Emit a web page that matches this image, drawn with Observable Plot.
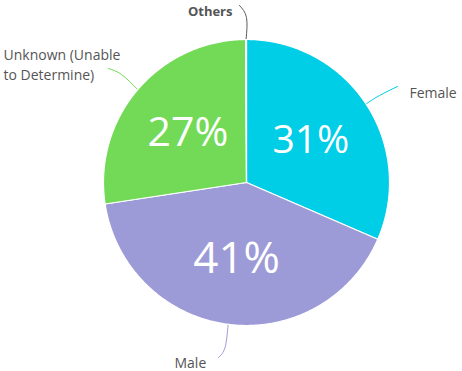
<!DOCTYPE html>
<html>
<head>
<meta charset="utf-8">
<script src="https://cdn.jsdelivr.net/npm/d3@7"></script>
<script src="https://cdn.jsdelivr.net/npm/@observablehq/plot@0.6"></script>
<style>
  html, body { margin: 0; padding: 0; background: #fff; }
  #chart svg { display: block; }
</style>
</head>
<body>
<div id="chart"></div>
<script>
// ---- data ----
const categories = ["Female", "Male", "Unknown (Unable\nto Determine)", "Others"];
const shares = [31.5, 41.1, 27.3, 0.1];
const pctLabels = ["31%", "41%", "27%", ""];
const colors = ["#00cde6", "#9d9bd7", "#72da57", "#5c5c5c"];

// ---- layout (pixels) ----
const W = 462, H = 371, CX = 246, CY = 182, R = 143;
const toX = px => px - CX, toY = py => CY - py;
const pctFont = [39, 44, 41, 0];
const pctRadius = 77;
// outside label anchor, connector elbow & end (pixel coords)
const outLayout = [
  {lx: 409, ly: 91, anchor: "start", weight: "normal", elbow: [379, 95], end: [397, 86]},
  {lx: 174, ly: 361, anchor: "start", weight: "normal", elbow: [224.5, 347], end: [218, 357]},
  {lx: 3, ly: 63, anchor: "start", weight: "normal", elbow: [121, 74], end: [108, 68]},
  {lx: 232, ly: 11, anchor: "end", weight: "bold", elbow: [246, 17], end: [239, 5]}
];

// ---- derived geometry ----
const total = d3.sum(shares);
const slices = [];
let acc = 0;
categories.forEach((name, i) => {
  const a0 = acc / total * 360, a1 = (acc + shares[i]) / total * 360;
  acc += shares[i];
  slices.push({name, i, a0, a1, mid: (a0 + a1) / 2});
});
const rad = a => a * Math.PI / 180;
const slicePts = [];
for (const s of slices) {
  slicePts.push({name: s.name, x: 0, y: 0});
  const n = Math.max(2, Math.ceil((s.a1 - s.a0) / 0.5));
  for (let k = 0; k <= n; k++) {
    const a = rad(s.a0 + (s.a1 - s.a0) * k / n);
    slicePts.push({name: s.name, x: R * Math.sin(a), y: R * Math.cos(a)});
  }
  slicePts.push({name: s.name, x: 0, y: 0});
}
const pctData = slices.filter(s => pctLabels[s.i]).map(s => ({
  text: pctLabels[s.i], size: pctFont[s.i],
  x: pctRadius * Math.sin(rad(s.mid)), y: pctRadius * Math.cos(rad(s.mid))
}));
const connPts = [];
slices.forEach(s => {
  const L = outLayout[s.i];
  connPts.push({name: s.name, x: R * Math.sin(rad(s.mid)), y: R * Math.cos(rad(s.mid))});
  connPts.push({name: s.name, x: toX(L.elbow[0]), y: toY(L.elbow[1])});
  connPts.push({name: s.name, x: toX(L.end[0]), y: toY(L.end[1])});
});
const outData = slices.map(s => ({name: s.name, x: toX(outLayout[s.i].lx), y: toY(outLayout[s.i].ly),
  anchor: outLayout[s.i].anchor, weight: outLayout[s.i].weight}));

const chart = Plot.plot({
  width: W, height: H, margin: 0,
  style: {fontFamily: "'Open Sans', sans-serif", background: "#fff"},
  x: {domain: [-CX, W - CX], axis: null},
  y: {domain: [CY - H, CY], axis: null},
  color: {domain: categories, range: colors},
  marks: [
    Plot.line(connPts, {x: "x", y: "y", z: "name", stroke: "name", strokeWidth: 1, curve: "natural"}),
    Plot.line(slicePts, {x: "x", y: "y", z: "name", fill: "name", stroke: "white", strokeWidth: 1.2, strokeLinejoin: "round"}),
    Plot.text(pctData, {x: "x", y: "y", text: "text", fill: "white", fontSize: "size", fontWeight: 400}),
    Plot.text(outData.filter(d => d.anchor === "start" && d.weight === "normal"), {x: "x", y: "y", text: "name", textAnchor: "start", fill: "#555", fontSize: 14, lineHeight: 1.43}),
    Plot.text(outData.filter(d => d.weight === "bold"), {x: "x", y: "y", text: "name", textAnchor: "end", fill: "#555", fontSize: 13, fontWeight: "bold"})
  ]
});
document.getElementById("chart").appendChild(chart);
</script>
</body>
</html>
